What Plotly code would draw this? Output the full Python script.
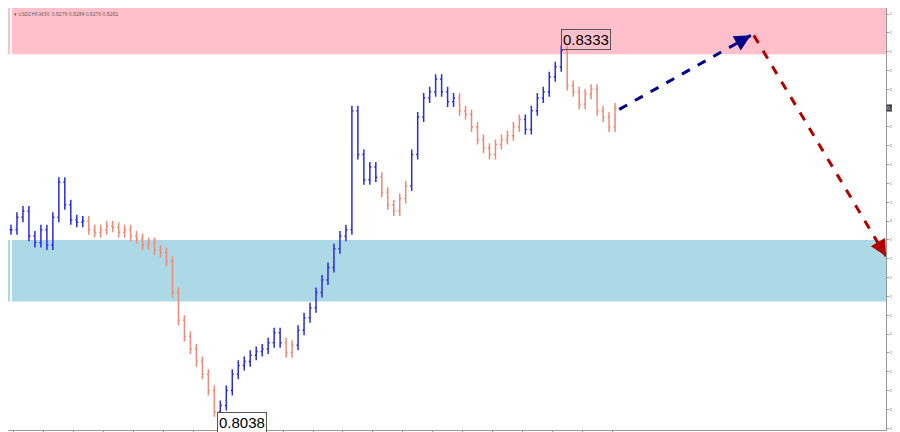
import plotly.graph_objects as go

closes = [0.8190,0.8200,0.8205,0.8185,0.8180,0.8190,0.8178,0.8200,0.8228,0.8210,0.8198,0.8196,0.8197,
0.8190,0.8188,0.8190,0.8193,0.8192,0.8188,0.8190,0.8185,0.8183,0.8178,0.8180,0.8174,0.8172,0.8165,0.8140,
0.8118,0.8105,0.8095,0.8085,0.8075,0.8062,0.8045,0.8050,0.8062,0.8075,0.8082,0.8085,0.8090,0.8093,0.8095,
0.8100,0.8108,0.8100,0.8092,0.8098,0.8110,0.8120,0.8128,0.8140,0.8150,0.8160,0.8175,0.8185,0.8190,0.8285,
0.8250,0.8230,0.8240,0.8232,0.8220,0.8210,0.8205,0.8215,0.8225,0.8250,0.8280,0.8295,0.8300,0.8310,0.8300,
0.8292,0.8295,0.8285,0.8282,0.8272,0.8262,0.8255,0.8250,0.8258,0.8262,0.8265,0.8272,0.8278,0.8270,0.8285,
0.8295,0.8300,0.8312,0.8320,0.8333,0.8305,0.8300,0.8290,0.8298,0.8302,0.8285,0.8280,0.8272,0.8287]
# wave segments: (start index, end index, colour key)
waves = [(0,12,"b"),(13,34,"s"),(35,45,"b"),(46,47,"s"),(48,61,"b"),(62,66,"s"),(67,74,"b"),(75,85,"s"),(86,92,"b"),(93,101,"s")]
tick_labels = ["17 Apr 2025","17 Apr 14:30","17 Apr 22:30","18 Apr 06:30","18 Apr 14:30","18 Apr 22:30",
"21 Apr 06:30","21 Apr 14:30","21 Apr 22:30","22 Apr 06:30","22 Apr 14:30","22 Apr 22:30","23 Apr 06:30",
"23 Apr 14:30","23 Apr 22:30","24 Apr 06:30","24 Apr 14:30","24 Apr 22:30","25 Apr 06:30","25 Apr 14:30","25 Apr 22:30"]
price_ticks = [round(0.8032 + 0.0015*k, 4) for k in range(23)]
pink_zone = (0.8330, 0.8368)
blue_zone = (0.8133, 0.8182)
forecast_blue = [(101.7, 0.8286), (123.7, 0.8345)]
forecast_red = [(124.2, 0.8345), (146.3, 0.8169)]

opens = [closes[0]] + closes[:-1]
highs = [max(o, c) + 0.0004 for o, c in zip(opens, closes)]
lows = [min(o, c) - 0.0004 for o, c in zip(opens, closes)]
colors = {"b": "#2b2be0", "s": "#f08a78"}

fig = go.Figure()
fig.add_shape(type="rect", xref="paper", x0=0, x1=1, y0=pink_zone[0], y1=pink_zone[1], fillcolor="#ffc0cb", line_width=0, layer="below")
fig.add_shape(type="rect", xref="paper", x0=0, x1=1, y0=blue_zone[0], y1=blue_zone[1], fillcolor="#add8e6", line_width=0, layer="below")
for s, e, k in waves:
    idx = list(range(s, e + 1))
    fig.add_trace(go.Ohlc(x=idx, open=[opens[i] for i in idx], high=[highs[i] for i in idx],
        low=[lows[i] for i in idx], close=[closes[i] for i in idx], tickwidth=0.25,
        increasing_line_color=colors[k], decreasing_line_color=colors[k], line_width=1.5, showlegend=False))
for pts, col, off in [(forecast_blue, "#00008b", (-14, 8)), (forecast_red, "#b00000", (-8, -14))]:
    fig.add_trace(go.Scatter(x=[p[0] for p in pts], y=[p[1] for p in pts], mode="lines",
        line=dict(color=col, width=3, dash="dash"), showlegend=False, hoverinfo="skip"))
    fig.add_annotation(x=pts[1][0], y=pts[1][1], ax=off[0], ay=off[1],
        showarrow=True, arrowhead=2, arrowsize=1.3, arrowwidth=2.5, arrowcolor=col, text="")
fig.add_annotation(x=92, y=0.8333, text="0.8333", showarrow=False, xanchor="left", yanchor="bottom",
    font=dict(size=15, color="black", family="Arial"), bordercolor="#555", borderwidth=1, borderpad=1, bgcolor="rgba(255,255,255,0)")
fig.add_annotation(x=34.5, y=0.8045, text="0.8038", showarrow=False, xanchor="left", yanchor="top",
    font=dict(size=15, color="black", family="Arial"), bordercolor="#555", borderwidth=1, borderpad=1, bgcolor="white")
fig.add_annotation(xref="paper", yref="paper", x=0.005, y=0.998, text="▾ USDCHF,M30  0.8279 0.8284 0.8276 0.8282",
    showarrow=False, xanchor="left", yanchor="top", font=dict(size=5, color="#555"))
fig.add_annotation(xref="paper", x=1.0, y=0.8287, text="0.8287", showarrow=False, xanchor="left",
    font=dict(size=5, color="white"), bgcolor="#333", borderpad=0)

fig.update_layout(width=900, height=432, margin=dict(l=0, r=22, t=0, b=10, autoexpand=False), plot_bgcolor="white", paper_bgcolor="white",
    xaxis=dict(range=[-0.5, 146.3], tickvals=[5*i + 0.5 for i in range(21)], ticktext=tick_labels, tickangle=0,
        tickfont=dict(size=4, color="#666"), showgrid=False, rangeslider_visible=False, showline=True, linecolor="#999",
        ticks="outside", ticklen=2, tickcolor="#999", automargin=False),
    yaxis=dict(range=[0.80305, 0.83668], side="right", tickvals=price_ticks, ticktext=[f"{v:.4f}" for v in price_ticks],
        tickfont=dict(size=4, color="#777"), showgrid=False, showline=True, linecolor="#999", ticks="outside", ticklen=2,
        tickcolor="#999", automargin=False))
fig.write_html("out.html")
